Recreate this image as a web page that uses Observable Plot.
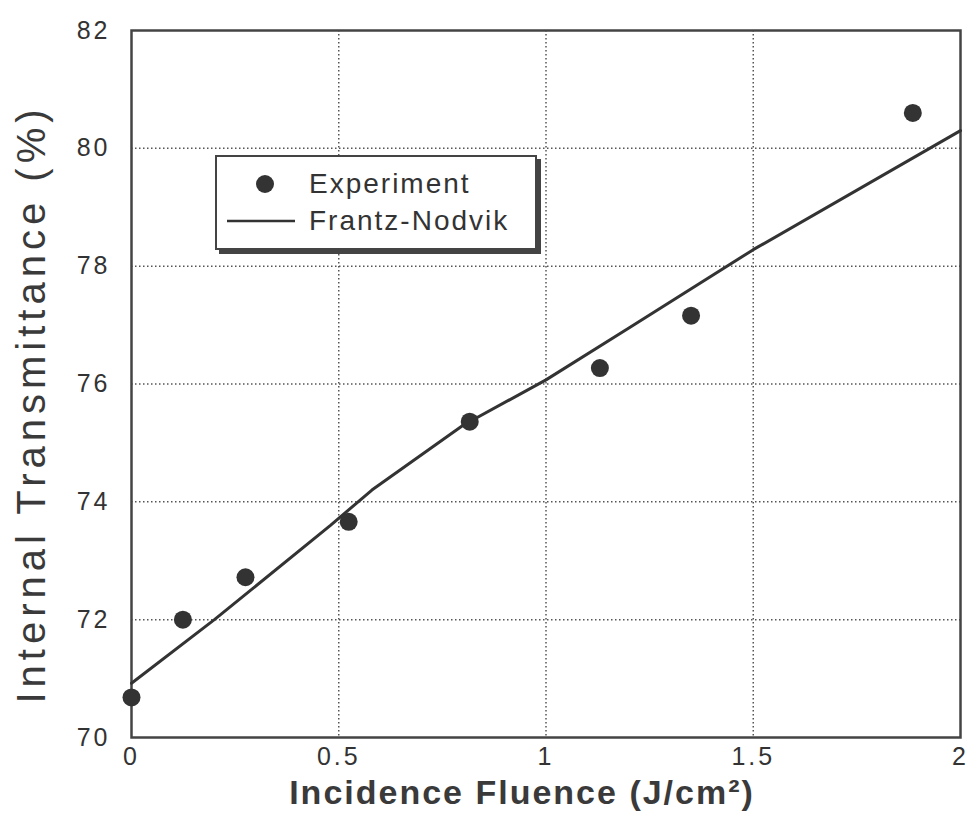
<!DOCTYPE html>
<html>
<head>
<meta charset="utf-8">
<script src="https://cdn.jsdelivr.net/npm/d3@7"></script>
<script src="https://cdn.jsdelivr.net/npm/@observablehq/plot@0.6"></script>
<style>
  html, body { margin: 0; padding: 0; background: #fff; }
  #wrap { position: relative; width: 978px; height: 821px; font-family: "Liberation Sans", Arial, Helvetica, sans-serif; }
  #wrap svg { font-family: "Liberation Sans", Arial, Helvetica, sans-serif; }
  .ticks text { letter-spacing: 3px; }
  .lbl text { letter-spacing: 2px; }
  .ylbl text { letter-spacing: 5px; }
  #legend { position: absolute; left: 215px; top: 155px; width: 318px; height: 91px;
    border: 2px solid #444; background: #fff; box-shadow: 4px 4px 0 #444; }
  .item { position: absolute; left: 0; height: 30px; display: flex; align-items: center;
    font-size: 28px; color: #333; letter-spacing: 2px; }
  .item svg { width: 80px; height: 30px; margin-right: 12px; }
</style>
</head>
<body>
<div id="wrap"></div>
<script>
// Experiment (dots)
const fluence = [0, 0.124, 0.275, 0.524, 0.816, 1.13, 1.35, 1.885];
const transmittance = [70.68, 72.0, 72.72, 73.66, 75.36, 76.27, 77.16, 80.6];
// Frantz-Nodvik model (line)
const modelFluence = [0, 0.2, 0.48, 0.58, 0.8, 1.0, 1.2, 1.5, 2.0];
const modelTransmittance = [70.92, 72.0, 73.6, 74.2, 75.3, 76.07, 76.95, 78.28, 80.3];
// Axes
const xTicks = [0, 0.5, 1, 1.5, 2];
const xTickLabels = ["0", "0.5", "1", "1.5", "2"];
const yTicks = [70, 72, 74, 76, 78, 80, 82];
const yTickLabels = ["70", "72", "74", "76", "78", "80", "82"];
const xGrid = [0.5, 1, 1.5];
const yGrid = [72, 74, 76, 78, 80];
const xLabel = "Incidence Fluence (J/cm²)";
const yLabel = "Internal Transmittance (%)";
const legendNames = ["Experiment", "Frantz-Nodvik"];

const expData = fluence.map((f, i) => ({f, t: transmittance[i]}));
const modelData = modelFluence.map((f, i) => ({f, t: modelTransmittance[i]}));

const ink = "#333";
const chart = Plot.plot({
  width: 978, height: 821,
  marginLeft: 131, marginRight: 18, marginTop: 30, marginBottom: 84,
  x: {domain: [0, 2]},
  y: {domain: [70, 82]},
  marks: [
    Plot.gridX(xGrid, {stroke: "#555", strokeOpacity: 1, strokeWidth: 1.5, strokeDasharray: "1.5,2.5"}),
    Plot.gridY(yGrid, {stroke: "#555", strokeOpacity: 1, strokeWidth: 1.5, strokeDasharray: "1.5,2.5"}),
    Plot.frame({stroke: "#444", strokeWidth: 2.5}),
    Plot.axisX(xTicks, {tickSize: 0, tickPadding: 10, fontSize: 25, fill: ink, label: null,
      tickFormat: (d) => xTickLabels[xTicks.indexOf(d)], className: "ticks"}),
    Plot.axisY(yTicks, {tickSize: 0, tickPadding: 21, fontSize: 25, fill: ink, label: null,
      tickFormat: (d) => yTickLabels[yTicks.indexOf(d)], className: "ticks"}),
    Plot.line(modelData, {x: "f", y: "t", stroke: ink, strokeWidth: 3}),
    Plot.dot(expData, {x: "f", y: "t", r: 9, fill: ink, stroke: "none"}),
    Plot.text([xLabel], {text: d => d, frameAnchor: "bottom", dy: 66, dx: -24, fontSize: 34,
      fontWeight: "bold", fill: "#3a3a3a", className: "lbl"}),
    Plot.text([yLabel], {text: d => d, frameAnchor: "left", textAnchor: "middle", rotate: -90,
      dx: -99, dy: 20, fontSize: 40, fill: "#3a3a3a", className: "ylbl"})
  ]
});
const wrap = document.getElementById("wrap");
wrap.appendChild(chart);

// Legend
const legend = document.createElement("div");
legend.id = "legend";
legendNames.forEach((name, i) => {
  const item = document.createElement("div");
  item.className = "item";
  item.style.top = (12 + i * 37) + "px";
  const sym = i === 0
    ? `<svg><circle cx="48" cy="15" r="9" fill="${ink}"/></svg>`
    : `<svg><line x1="10" x2="78" y1="15" y2="15" stroke="${ink}" stroke-width="2.5"/></svg>`;
  item.innerHTML = sym + `<span>${name}</span>`;
  legend.appendChild(item);
});
wrap.appendChild(legend);
</script>
</body>
</html>
